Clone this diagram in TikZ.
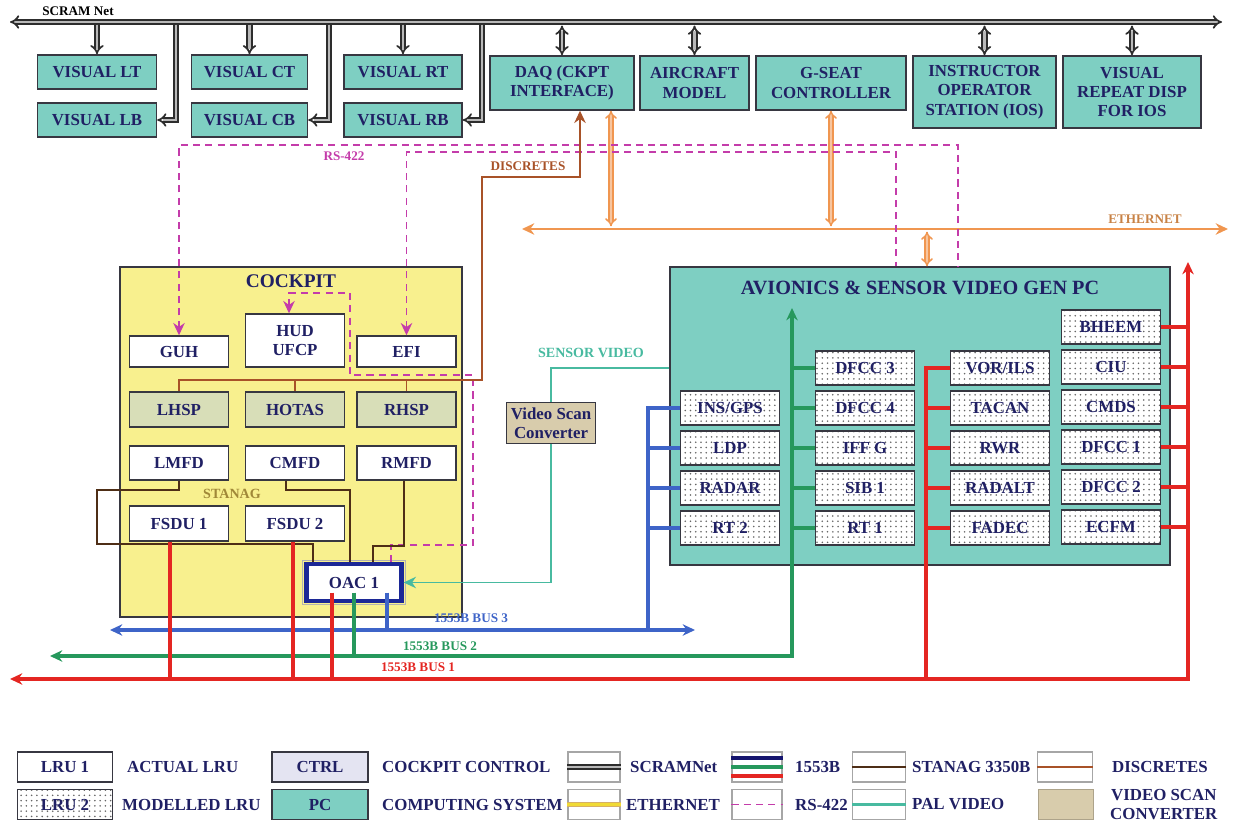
\documentclass[tikz,border=0pt]{standalone}
\usepackage{fontspec}
\setmainfont{Liberation Serif}
\usepackage{xcolor}
\usepackage{tikz}
\usetikzlibrary{arrows.meta, positioning, patterns}

\definecolor{navytxt}{RGB}{32,32,100}
\definecolor{pcteal}{RGB}{126,207,194}
\definecolor{ckyellow}{RGB}{248,240,142}
\definecolor{ctrlfill}{RGB}{216,222,184}
\definecolor{ctrllav}{RGB}{228,228,242}
\definecolor{vscfill}{RGB}{216,204,172}
\definecolor{boxline}{RGB}{55,55,65}
\definecolor{busred}{RGB}{228,38,34}
\definecolor{busgreen}{RGB}{38,152,92}
\definecolor{busblue}{RGB}{62,100,200}
\definecolor{ethorange}{RGB}{240,150,80}
\definecolor{ethtxt}{RGB}{200,130,70}
\definecolor{rsmag}{RGB}{196,60,170}
\definecolor{discbrown}{RGB}{168,82,40}
\definecolor{stanbrown}{RGB}{78,46,22}
\definecolor{stantxt}{RGB}{160,136,56}
\definecolor{palteal}{RGB}{72,186,160}
\definecolor{oacnavy}{RGB}{28,40,150}
\definecolor{lgnavy}{RGB}{20,20,110}
\definecolor{ethgold}{RGB}{214,176,100}

\begin{document}
\begin{tikzpicture}[x=0.02cm, y=-0.02cm, node distance=0.8cm, on grid,
  >={Stealth[length=7pt, width=6.5pt]},
  box/.style={draw=boxline, line width=0.8pt, inner sep=1pt, align=center,
    font=\bfseries\fontsize{9.6}{11}\selectfont, text=navytxt,
    minimum width=1.98cm, minimum height=0.68cm},
  actual/.style={box, fill=white},
  ctrl/.style={box, fill=ctrlfill},
  pc/.style={box, fill=pcteal},
  modelled/.style={box, preaction={fill=white}, pattern=dots, pattern color=black!60},
  title/.style={font=\bfseries\fontsize{11}{12}\selectfont, text=navytxt},
  tag/.style={font=\bfseries\fontsize{7.5}{8}\selectfont, inner sep=1pt},
  legtext/.style={font=\bfseries\fontsize{9.6}{11}\selectfont, text=navytxt, anchor=west, align=center},
  swatch/.style={draw=gray!70, line width=0.6pt, fill=white, minimum width=1.04cm, minimum height=0.6cm},
  scram/.style={draw=gray!35!black, double=gray!55, double distance=1.5pt, line width=1pt},
  ethdbl/.style={draw=ethorange, double=ethorange!55, double distance=1.3pt, line width=0.9pt},
  eth/.style={draw=ethorange, line width=1.6pt},
  bus1/.style={draw=busred, line width=2pt},
  bus2/.style={draw=busgreen, line width=1.8pt},
  bus3/.style={draw=busblue, line width=1.8pt},
  rs/.style={draw=rsmag, line width=1.1pt, dash pattern=on 4pt off 3pt},
  discr/.style={draw=discbrown, line width=1pt},
  stanag/.style={draw=stanbrown, line width=1pt},
  pal/.style={draw=palteal, line width=1.1pt}]
\useasboundingbox (0,0) rectangle (1233,827);

\coordinate (scl) at (10,22);
\coordinate (scr) at (1222,22);
\draw[scram, >=Implies, <->] (scl) -- (scr);
\node[tag] (scramlbl) at (78,11) {SCRAM Net};

\node[pc, minimum width=2.38cm] (vislt) at (97,72) {VISUAL LT};
\node[pc, minimum width=2.32cm] (visct) at (249.5,72) {VISUAL CT};
\node[pc, minimum width=2.36cm] (visrt) at (403,72) {VISUAL RT};
\node[pc, minimum width=2.38cm] (vislb) [below=0.96cm of vislt] {VISUAL LB};
\node[pc, minimum width=2.32cm] (viscb) [below=0.96cm of visct] {VISUAL CB};
\node[pc, minimum width=2.36cm] (visrb) [below=0.96cm of visrt] {VISUAL RB};

\node[pc, minimum width=2.88cm, minimum height=1.08cm] (daq) at (562,83) {DAQ (CKPT\\INTERFACE)};
\node[pc, minimum width=2.18cm, minimum height=1.08cm] (acm) at (694.5,83) {AIRCRAFT\\MODEL};
\node[pc, minimum width=3cm, minimum height=1.08cm] (gseat) at (831,83) {G-SEAT\\CONTROLLER};
\node[pc, minimum width=2.86cm, minimum height=1.44cm] (ios) at (984.5,92) {INSTRUCTOR\\OPERATOR\\STATION (IOS)};
\node[pc, minimum width=2.76cm, minimum height=1.44cm] (visrep) at (1132,92) {VISUAL\\REPEAT DISP\\FOR IOS};

\coordinate (tap1) at (176,22);
\coordinate (tap2) at (329,22);
\coordinate (tap3) at (482,22);
\draw[scram, >=Implies, ->] ([yshift=-1.5pt]vislt.north |- scl) -- (vislt);
\draw[scram, >=Implies, ->] ([yshift=-1.5pt]visct.north |- scl) -- (visct);
\draw[scram, >=Implies, ->] ([yshift=-1.5pt]visrt.north |- scl) -- (visrt);
\draw[scram, >=Implies, ->] ([yshift=-1.5pt]tap1) |- (vislb);
\draw[scram, >=Implies, ->] ([yshift=-1.5pt]tap2) |- (viscb);
\draw[scram, >=Implies, ->] ([yshift=-1.5pt]tap3) |- (visrb);
\draw[scram, >=Implies, <->] ([yshift=-2pt]daq.north |- scl) -- (daq);
\draw[scram, >=Implies, <->] ([yshift=-2pt]acm.north |- scl) -- (acm);
\draw[scram, >=Implies, <->] ([yshift=-2pt]ios.north |- scl) -- (ios);
\draw[scram, >=Implies, <->] ([yshift=-2pt]visrep.north |- scl) -- (visrep);

\node[draw=boxline, line width=0.8pt, fill=ckyellow, minimum width=6.84cm, minimum height=7cm,
  label={[title, anchor=north, yshift=-1pt]north:COCKPIT}] (ckpt) at (291,442) {};
\node[draw=boxline, line width=0.8pt, fill=pcteal, minimum width=10cm, minimum height=5.96cm,
  label={[title, font=\bfseries\fontsize{11.5}{12}\selectfont, anchor=north, yshift=-5pt]north:AVIONICS \& SENSOR VIDEO GEN PC}] (avi) at (920,416) {};

\node[actual, minimum height=0.62cm] (guh) at (179,351.5) {GUH};
\node[actual, minimum height=1.06cm] (hud) at (295,340.5) {HUD\\UFCP};
\node[actual, minimum height=0.62cm] (efi) at (406.5,351.5) {EFI};
\node[ctrl, minimum height=0.7cm] (lhsp) at (179,409.5) {LHSP};
\node[ctrl, minimum height=0.7cm] (hotas) at (295,409.5) {HOTAS};
\node[ctrl, minimum height=0.7cm] (rhsp) at (406.5,409.5) {RHSP};
\node[actual] (lmfd) at (179,463) {LMFD};
\node[actual] (cmfd) at (295,463) {CMFD};
\node[actual] (rmfd) at (406.5,463) {RMFD};
\node[actual, minimum height=0.7cm] (fsdu1) at (179,523.5) {FSDU 1};
\node[actual, minimum height=0.7cm] (fsdu2) at (295,523.5) {FSDU 2};
\node[actual, draw=oacnavy, line width=2.5pt, minimum width=1.9cm, minimum height=0.74cm] (oac) at (354,582.5) {OAC 1};
\draw[gray!60, line width=0.6pt] ([shift={(-0.8pt,0.8pt)}]oac.north west) rectangle ([shift={(0.8pt,-0.8pt)}]oac.south east);

\node[box, fill=vscfill, minimum width=1.78cm, minimum height=0.82cm] (vsc) at (551,423) {Video Scan\\Converter};

\node[modelled] (bheem) at (1111,327) {BHEEM};
\node[modelled] (ciu) [below=of bheem] {CIU};
\node[modelled] (cmds) [below=of ciu] {CMDS};
\node[modelled] (dfcc1) [below=of cmds] {DFCC 1};
\node[modelled] (dfcc2) [below=of dfcc1] {DFCC 2};
\node[modelled] (ecfm) [below=of dfcc2] {ECFM};
\node[modelled] (vorils) at (1000,368) {VOR/ILS};
\node[modelled] (tacan) [below=of vorils] {TACAN};
\node[modelled] (rwr) [below=of tacan] {RWR};
\node[modelled] (radalt) [below=of rwr] {RADALT};
\node[modelled] (fadec) [below=of radalt] {FADEC};
\node[modelled] (dfcc3) at (865,368) {DFCC 3};
\node[modelled] (dfcc4) [below=of dfcc3] {DFCC 4};
\node[modelled] (iffg) [below=of dfcc4] {IFF G};
\node[modelled] (sib1) [below=of iffg] {SIB 1};
\node[modelled] (rt1) [below=of sib1] {RT 1};
\node[modelled] (insgps) at (730,408) {INS/GPS};
\node[modelled] (ldp) [below=of insgps] {LDP};
\node[modelled] (radar) [below=of ldp] {RADAR};
\node[modelled] (rt2) [below=of radar] {RT 2};

\coordinate (ethl) at (522,229);
\coordinate (ethr) at (1228,229);
\draw[eth, <->] (ethl) -- (ethr);
\node[tag, text=ethtxt] (ethlbl) at (1145,219) {ETHERNET};
\coordinate (eq1) at ([xshift=0.98cm]daq.south);
\coordinate (eq2) at ([xshift=0.14cm]avi.north);
\draw[ethdbl, >=Implies, <->] (eq1) -- ([yshift=1.5pt]eq1 |- ethl);
\draw[ethdbl, >=Implies, <->] (gseat) -- ([yshift=1.5pt]gseat.south |- ethl);
\draw[ethdbl, >=Implies, <->] ([yshift=-1.5pt]eq2 |- ethl) -- (eq2);

\coordinate (rso) at (958,145);
\coordinate (rsi) at (896,152);
\coordinate (rh1) at (350,293);
\coordinate (rh2) at (473,375);
\coordinate (rh3) at (391,545);
\draw[rs, <-] (guh) |- (rso) -- (rso |- avi.north);
\draw[rs, <-] (efi) |- (rsi) -- (rsi |- avi.north);
\draw[rs, <-] ([xshift=-0.12cm]hud.north) |- (rh1) |- (rh2) |- (rh3) -- (rh3 |- oac.north);
\node[tag, text=rsmag] (rslbl) at (344,156) {RS-422};

\coordinate (dq) at ([xshift=0.36cm]daq.south);
\coordinate (dsa) at (482,177);
\coordinate (dsb) at (482,380);
\draw[discr, <-] (dq) |- (dsa) -- (dsb) -| (lhsp);
\draw[discr] (dsb -| hotas) -- (hotas);
\draw[discr] (dsb -| rhsp) -- (rhsp);
\node[tag, text=discbrown] (disclbl) at (528,166) {DISCRETES};

\coordinate (st1) at (97,490);
\coordinate (st2) at (313,544);
\coordinate (st3) at (286,490);
\coordinate (st4) at (350,490);
\coordinate (st5) at (404,546);
\coordinate (st6) at (373,546);
\draw[stanag] (lmfd) |- (st1) -- (st1 |- st2) -- (st2) -- (st2 |- oac.north);
\draw[stanag] (st3 |- cmfd.south) -- (st3) -- (st4) -- (st4 |- oac.north);
\draw[stanag] (st5 |- rmfd.south) -- (st5) -- (st6) -- (st6 |- oac.north);
\node[tag, text=stantxt, font=\bfseries\fontsize{8}{9}\selectfont] (stanlbl) at (232,494) {STANAG};

\coordinate (pv) at (551,368);
\draw[pal] (pv -| avi.west) -- (pv) -- (vsc);
\draw[pal, ->] (vsc) |- (oac);
\node[tag, text=palteal, font=\bfseries\fontsize{8}{9}\selectfont] (pallbl) at (591,353) {SENSOR VIDEO};

\coordinate (b3l) at (110,630);
\coordinate (b3r) at (695,630);
\coordinate (b3t) at (648,408);
\coordinate (o3) at ([xshift=0.66cm, yshift=6pt]oac.south);
\draw[bus3, <->] (b3l) -- (b3r);
\draw[bus3] (b3t |- b3l) -- (b3t) -- (insgps);
\path[bus3] (ldp) edge (ldp -| b3t) (radar) edge (radar -| b3t) (rt2) edge (rt2 -| b3t);
\draw[bus3] (o3) -- (o3 |- b3l);
\node[tag, text=busblue] (b3lbl) at (471,618) {1553B BUS 3};

\coordinate (b2l) at (50,656);
\coordinate (b2c) at (792,656);
\coordinate (b2t) at (792,308);
\coordinate (o2) at ([yshift=6pt]oac.south);
\draw[bus2, <->] (b2l) -- (b2c) -- (b2t);
\path[bus2] (dfcc3) edge (dfcc3 -| b2t) (dfcc4) edge (dfcc4 -| b2t) (iffg) edge (iffg -| b2t)
  (sib1) edge (sib1 -| b2t) (rt1) edge (rt1 -| b2t);
\draw[bus2] (o2) -- (o2 |- b2l);
\node[tag, text=busgreen] (b2lbl) at (440,646) {1553B BUS 2};

\coordinate (b1l) at (10,679);
\coordinate (b1c) at (1188,679);
\coordinate (b1t) at (1188,262);
\coordinate (b1m) at (926,368);
\coordinate (o1) at ([xshift=-0.44cm, yshift=6pt]oac.south);
\coordinate (f1) at ([xshift=-0.18cm]fsdu1.south);
\coordinate (f2) at ([xshift=-0.04cm]fsdu2.south);
\draw[bus1, <->] (b1l) -- (b1c) -- (b1t);
\path[bus1] (bheem) edge (bheem -| b1t) (ciu) edge (ciu -| b1t) (cmds) edge (cmds -| b1t)
  (dfcc1) edge (dfcc1 -| b1t) (dfcc2) edge (dfcc2 -| b1t) (ecfm) edge (ecfm -| b1t);
\draw[bus1] (b1m |- b1l) -- (b1m) -- (vorils);
\path[bus1] (tacan) edge (tacan -| b1m) (rwr) edge (rwr -| b1m) (radalt) edge (radalt -| b1m)
  (fadec) edge (fadec -| b1m);
\draw[bus1] (f1) -- (f1 |- b1l);
\draw[bus1] (f2) -- (f2 |- b1l);
\draw[bus1] (o1) -- (o1 |- b1l);
\node[tag, text=busred] (b1lbl) at (418,667) {1553B BUS 1};

\node[actual, minimum width=1.9cm, minimum height=0.6cm] (lgact) at (65,767) {LRU 1};
\node[modelled, minimum width=1.9cm, minimum height=0.6cm] (lgmod) at (65,804.5) {LRU 2};
\node[legtext] (lgacttxt) at (121,767) {ACTUAL LRU};
\node[legtext] (lgmodtxt) at (116,804.5) {MODELLED LRU};
\node[ctrl, fill=ctrllav, minimum width=1.92cm, minimum height=0.6cm] (lgctrl) at (320,767) {CTRL};
\node[pc, minimum width=1.92cm, minimum height=0.6cm] (lgpc) at (320,804.5) {PC};
\node[legtext] (lgctrltxt) at (376,767) {COCKPIT CONTROL};
\node[legtext] (lgpctxt) at (376,804.5) {COMPUTING SYSTEM};

\node[swatch] (lgscram) at (594,767) {};
\node[swatch] (lgeth) at (594,804.5) {};
\draw[scram] (lgscram.west) -- (lgscram.east);
\draw[draw=ethgold, double=yellow!60!ethgold, double distance=1.2pt, line width=0.6pt] (lgeth.west) -- (lgeth.east);
\node[legtext] (lgscramtxt) at (624,767) {SCRAMNet};
\node[legtext] (lgethtxt) at (620,804.5) {ETHERNET};

\node[swatch, minimum width=1.0cm] (lgbus) at (757,767) {};
\node[swatch, minimum width=1.0cm] (lgrs) at (757,804.5) {};
\draw[lgnavy, line width=2pt] ([yshift=5pt]lgbus.west) -- ([yshift=5pt]lgbus.east);
\draw[bus2] (lgbus.west) -- (lgbus.east);
\draw[bus1] ([yshift=-5pt]lgbus.west) -- ([yshift=-5pt]lgbus.east);
\draw[rs] (lgrs.west) -- (lgrs.east);
\node[legtext] (lgbustxt) at (789,767) {1553B};
\node[legtext] (lgrstxt) at (789,804.5) {RS-422};

\node[swatch, minimum width=1.06cm] (lgstan) at (879,767) {};
\node[swatch, minimum width=1.06cm] (lgpal) at (879,804.5) {};
\draw[stanag, line width=1.3pt] (lgstan.west) -- (lgstan.east);
\draw[pal, line width=1.3pt] (lgpal.west) -- (lgpal.east);
\node[legtext] (lgstantxt) at (906,767) {STANAG 3350B};
\node[legtext] (lgpaltxt) at (906,804.5) {PAL VIDEO};

\node[swatch, minimum width=1.1cm] (lgdisc) at (1065,767) {};
\node[swatch, minimum width=1.1cm, fill=vscfill, draw=vscfill!80!black] (lgvsc) at (1066,804.5) {};
\draw[discr, line width=1.3pt] (lgdisc.west) -- (lgdisc.east);
\node[legtext] (lgdisctxt) at (1106,767) {DISCRETES};
\node[legtext] (lgvsctxt) at (1104,804.5) {VIDEO SCAN\\CONVERTER};
\end{tikzpicture}
\end{document}
